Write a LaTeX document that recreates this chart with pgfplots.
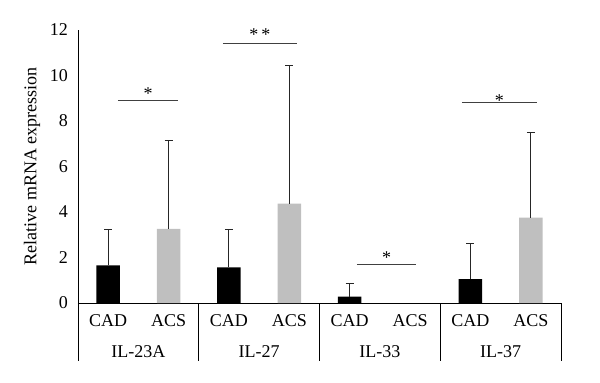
\documentclass[border=0pt]{standalone}
\usepackage{fontspec}
\setmainfont{Liberation Serif}
\usepackage{pgfplots}
\pgfplotsset{compat=1.18}
\definecolor{acsgray}{HTML}{BFBFBF}
\definecolor{linegray}{HTML}{404040}
\definecolor{errcol}{HTML}{262626}
\begin{document}
\fontsize{18}{21}\selectfont
\begin{tikzpicture}
\useasboundingbox (-78pt,-80pt) rectangle (522pt,303pt);
\begin{axis}[
  scale only axis, width=483pt, height=273pt,
  xmin=0, xmax=4, ymin=0, ymax=12,
  axis x line=bottom, axis y line=left,
  axis line style={-, black, line width=0.9pt},
  ytick={0,2,...,12}, major tick length=0pt,
  /pgf/number format/assume math mode=true,
  xtick={0.25,0.75,1.25,1.75,2.25,2.75,3.25,3.75},
  xticklabels={CAD,ACS,CAD,ACS,CAD,ACS,CAD,ACS},
  xticklabel style={anchor=base, yshift=-23pt},
  yticklabel style={xshift=-4pt},
  ylabel={Relative mRNA expression},
  ylabel style={at={(axis description cs:-0.095,0.5)}, anchor=center},
  clip=false,
]
\addplot[ybar, bar width=23.6pt, bar shift=0pt, fill=black, draw=none,
  error bars/.cd, y dir=plus, y explicit,
  error bar style={line width=0.9pt, errcol},
  error mark options={rotate=90, mark size=4pt, line width=0.9pt, errcol}]
  coordinates {(0.25,1.65) +- (0,1.59) (1.25,1.57) +- (0,1.65) (2.25,0.28) +- (0,0.58) (3.25,1.05) +- (0,1.55)};
\addplot[ybar, bar width=23.6pt, bar shift=0pt, fill=acsgray, draw=none,
  error bars/.cd, y dir=plus, y explicit,
  error bar style={line width=0.9pt, errcol},
  error mark options={rotate=90, mark size=4pt, line width=0.9pt, errcol}]
  coordinates {(0.75,3.26) +- (0,3.87) (1.75,4.37) +- (0,6.08) (3.75,3.75) +- (0,3.75)};
% significance lines
\addplot[sharp plot, no marks, linegray, line width=0.9pt] coordinates {(0.331,8.9) (0.828,8.9)};
\addplot[sharp plot, no marks, linegray, line width=0.9pt] coordinates {(1.20,11.43) (1.814,11.43)};
\addplot[sharp plot, no marks, linegray, line width=0.9pt] coordinates {(2.31,1.7) (2.80,1.7)};
\addplot[sharp plot, no marks, linegray, line width=0.9pt] coordinates {(3.18,8.8) (3.80,8.8)};
\node[anchor=base, yshift=1pt] at (axis cs:0.58,8.9) {*};
\node[anchor=base, yshift=2pt] at (axis cs:1.507,11.43) {*\,*};
\node[anchor=base, yshift=1pt] at (axis cs:2.555,1.7) {*};
\node[anchor=base, yshift=-4pt] at (axis cs:3.49,8.8) {*};
% group separators
\foreach \g in {0,1,2,3,4} {
  \edef\temp{\noexpand\draw[line width=0.9pt] (axis cs:\g,0) -- ++(0,-58pt);}
  \temp
}
\node[anchor=base, yshift=-54pt] at (axis cs:0.5,0) {IL-23A};
\node[anchor=base, yshift=-54pt] at (axis cs:1.5,0) {IL-27};
\node[anchor=base, yshift=-54pt] at (axis cs:2.5,0) {IL-33};
\node[anchor=base, yshift=-54pt] at (axis cs:3.5,0) {IL-37};
\end{axis}
\end{tikzpicture}
\end{document}
